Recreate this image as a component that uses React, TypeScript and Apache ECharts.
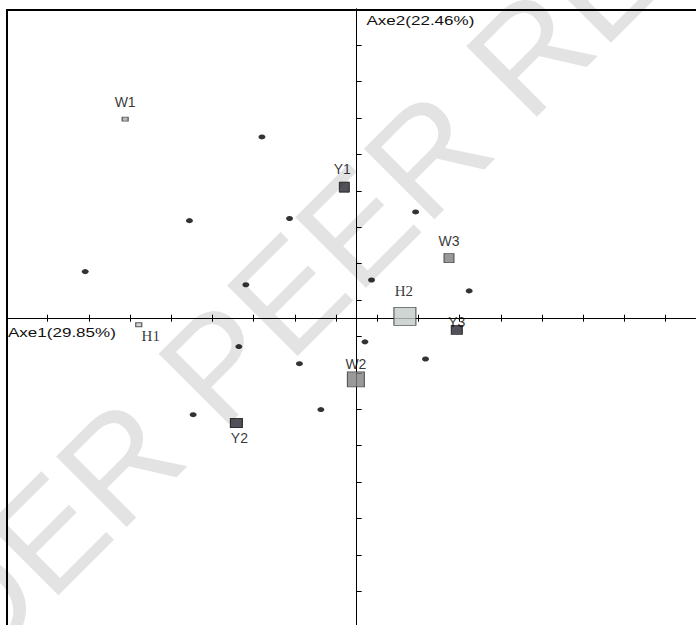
import React, { useEffect, useRef } from "react";
import * as echarts from "echarts";

// Individuals (black dots), in axis-tick units, centred on the origin of the plane
const dotX = [-2.3, -4.06, -1.63, -6.59, -2.69, 1.43, 0.36, 2.73, 0.2, 1.67, -2.86, -1.39, -3.97, -0.87];
const dotY = [4.98, 2.68, 2.74, 1.28, 0.92, 2.92, 1.05, 0.75, -0.65, -1.12, -0.78, -1.25, -2.65, -2.51];

// Modalities (squares)
const markerNames = ["W1", "W2", "W3", "H1", "H2", "Y1", "Y2", "Y3"];
const markerX = [-5.62, -0.02, 2.24, -5.29, 1.17, -0.3, -2.92, 2.43];
const markerY = [5.47, -1.68, 1.65, -0.18, 0.05, 3.6, -2.88, -0.32];

// Axis titles and tick layout (ticks sit half a step off the origin)
const axisTitles = ["Axe1(29.85%)", "Axe2(22.46%)"];
const tickMin = 0;
const tickMax = 17;
const tickStep = 1;
const halfSpan = 8.5;

const watermarkText = "UNDER PEER REVIEW";

const markerStyle: Record<string, any> = {
  W1: { size: [6, 4], color: "#a9a9a9", border: "#333", offset: [0, -17], serif: false },
  W2: { size: [17, 15], color: "#7f7f7f", border: "#333", offset: [0, -15], serif: false },
  W3: { size: [10, 9], color: "#7f7f7f", border: "#333", offset: [0, -17.5], serif: false },
  H1: { size: [6, 4], color: "#c6cdca", border: "#333", offset: [12, 11.5], serif: true },
  H2: { size: [22, 18], color: "#c3cbc7", border: "#333", offset: [-1, -25], serif: true },
  Y1: { size: [10, 10], color: "#27242e", border: "#111", offset: [-2, -18.5], serif: false },
  Y2: { size: [12, 9], color: "#27242e", border: "#111", offset: [3, 15], serif: false },
  Y3: { size: [11, 9], color: "#27242e", border: "#111", offset: [0, -8], serif: false },
};

export default function App() {
  const ref = useRef<HTMLDivElement>(null);

  useEffect(() => {
    if (!ref.current) return;
    const chart = echarts.init(ref.current, undefined, { renderer: "svg" });

    const hiddenAxis = (min: number, max: number) => ({
      type: "value",
      show: false,
      min,
      max,
      axisLine: { onZero: false },
      splitLine: { show: false },
    });

    const tickAxis = (position: string, inside: boolean, showLine: boolean, length: number) => ({
      type: "value",
      position,
      min: tickMin,
      max: tickMax,
      interval: tickStep,
      axisLine: {
        show: showLine,
        onZero: true,
        onZeroAxisIndex: 1,
        lineStyle: { color: "#000", width: 1 },
      },
      axisTick: { show: true, inside, length, lineStyle: { color: "#000", width: 1 } },
      axisLabel: { show: false },
      splitLine: { show: false },
    });

    const markerData = markerNames.map((n, i) => {
      const s = markerStyle[n];
      return {
        name: n,
        value: [markerX[i], markerY[i]],
        symbolSize: s.size,
        itemStyle: { color: s.color, borderColor: s.border, borderWidth: 1 },
        label: {
          offset: s.offset,
          fontFamily: s.serif ? "Liberation Serif" : "Liberation Sans",
          fontSize: s.serif ? 15 : 14,
        },
      };
    });

    const dotData = dotX.map((x, i) => [x, dotY[i]]);

    chart.setOption({
      animation: false,
      grid: {
        left: 6.5,
        top: 8.8,
        width: 41.2 * (tickMax - tickMin),
        height: 36.4 * (tickMax - tickMin),
        containLabel: false,
        outerBoundsMode: "none",
        show: false,
      },
      xAxis: [
        tickAxis("bottom", false, true, 3.5),
        hiddenAxis(-halfSpan, tickMax - halfSpan),
        tickAxis("bottom", true, false, 3.5),
      ],
      yAxis: [
        tickAxis("left", true, true, 5),
        hiddenAxis(-halfSpan, tickMax - halfSpan),
      ],
      series: [
        {
          type: "scatter",
          xAxisIndex: 1,
          yAxisIndex: 1,
          symbol: "circle",
          symbolSize: [7, 5],
          itemStyle: { color: "#000" },
          data: dotData,
          silent: true,
          z: 3,
        },
        {
          type: "scatter",
          xAxisIndex: 1,
          yAxisIndex: 1,
          symbol: "rect",
          data: markerData,
          silent: true,
          z: 4,
          label: {
            show: true,
            position: "inside",
            formatter: "{b}",
            color: "#000",
            fontSize: 14,
            fontFamily: "Liberation Sans",
          },
        },
      ],
      graphic: [
        {
          type: "text",
          x: 345,
          y: 238,
          rotation: Math.PI / 4,
          z: -100,
          silent: true,
          style: {
            text: watermarkText,
            fontSize: 145,
            fontFamily: "Liberation Sans",
            fill: "#e3e3e3",
            align: "center",
            verticalAlign: "middle",
          },
        },
        {
          type: "line",
          z: 10,
          shape: { x1: 6, y1: 10, x2: 696, y2: 10 },
          style: { stroke: "#000", lineWidth: 2 },
        },
        {
          type: "line",
          z: 10,
          shape: { x1: 7, y1: 9, x2: 7, y2: 625 },
          style: { stroke: "#000", lineWidth: 2 },
        },
        {
          type: "text",
          x: 8,
          y: 333,
          scaleX: 1.42,
          z: 10,
          style: {
            text: axisTitles[0],
            fontSize: 12,
            fontFamily: "Liberation Sans",
            fill: "#111",
            align: "left",
            verticalAlign: "middle",
          },
        },
        {
          type: "text",
          x: 366.5,
          y: 21,
          scaleX: 1.42,
          z: 10,
          style: {
            text: axisTitles[1],
            fontSize: 12,
            fontFamily: "Liberation Sans",
            fill: "#111",
            align: "left",
            verticalAlign: "middle",
          },
        },
      ],
    });

    return () => chart.dispose();
  }, []);

  return (
    <div
      ref={ref}
      style={{ position: "fixed", left: 0, top: 0, width: 696, height: 625, background: "#fff" }}
    />
  );
}
